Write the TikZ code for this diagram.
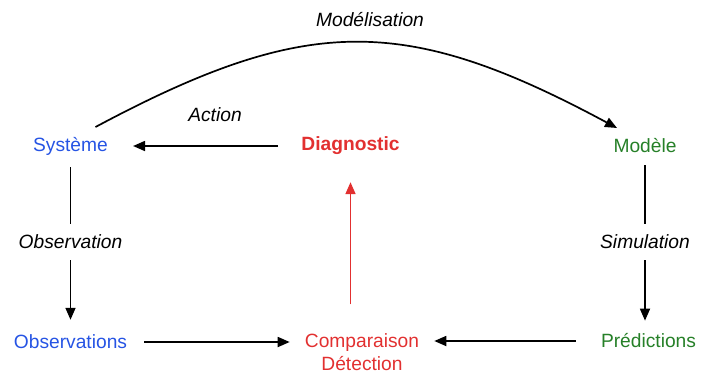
\documentclass[tikz,border=0pt]{standalone}
\usepackage{fontspec}
\setmainfont{Liberation Sans}
\usetikzlibrary{arrows.meta,positioning}
\definecolor{sysblue}{RGB}{38,84,228}
\definecolor{diagred}{RGB}{226,48,48}
\definecolor{modgreen}{RGB}{38,128,40}
\tikzset{
  etat/.style={inner sep=0pt, align=center},
  lbl/.style={inner sep=0pt, font=\itshape},
  seg/.style={line width=1.7pt},
  flow/.style={line width=1.7pt, -{Triangle[length=12pt,width=10pt]}}
}

\begin{document}
\begin{tikzpicture}[x=1pt,y=-1pt]
\fontsize{19.2}{23}\selectfont
\useasboundingbox (0,0) rectangle (703,373);

% les noeuds
\node[etat, text=sysblue] (sys) at (70.5,146) {Système};
\node[etat, text=diagred, font=\bfseries] (diag) at (350.5,146) {Diagnostic};
\node[etat, text=modgreen] (mod) at (645,146) {Modèle};
\node[etat, text=sysblue] (obs) at (70.5,342) {Observations};
\node[etat, text=diagred] (comp) at (362,352) {Comparaison\\Détection};
\node[etat, text=modgreen] (pred) at (648.5,341) {Prédictions};

% les etiquettes
\node[lbl] (modl) at (370,20) {Modélisation};
\node[lbl] (act) at (215,115) {Action};
\node[lbl] (obsl) at (70.5,242) {Observation};
\node[lbl] (siml) at (645,242) {Simulation};

% la modelisation
\coordinate (cdeb) at ([shift={(25,-19)}]sys.center);
\coordinate (cfin) at ([shift={(-28,-18)}]mod.center);
\draw[flow] (cdeb) .. controls (307,14) and (405,14) .. (cfin);

% action
\draw[flow, shorten <=23pt, shorten >=25pt] (diag) -- (sys);

% observation
\draw[seg, shorten <=12pt, shorten >=11pt] (sys) -- (obsl);
\draw[flow, shorten <=11pt, shorten >=15pt] (obsl) -- (obs);

% simulation
\draw[seg, shorten <=12pt, shorten >=11pt] (mod) -- (siml);
\draw[flow, shorten <=11pt, shorten >=13pt] (siml) -- (siml |- pred.north);

% comparaison
\draw[flow, shorten <=17pt, shorten >=15pt] (obs) -- (obs -| comp.west);
\draw[flow, shorten <=25pt, shorten >=15pt] (pred) -- (pred -| comp.east);
\draw[flow, diagred, shorten <=29pt, shorten >=27pt] (diag |- comp.north) -- (diag);
\end{tikzpicture}
\end{document}
